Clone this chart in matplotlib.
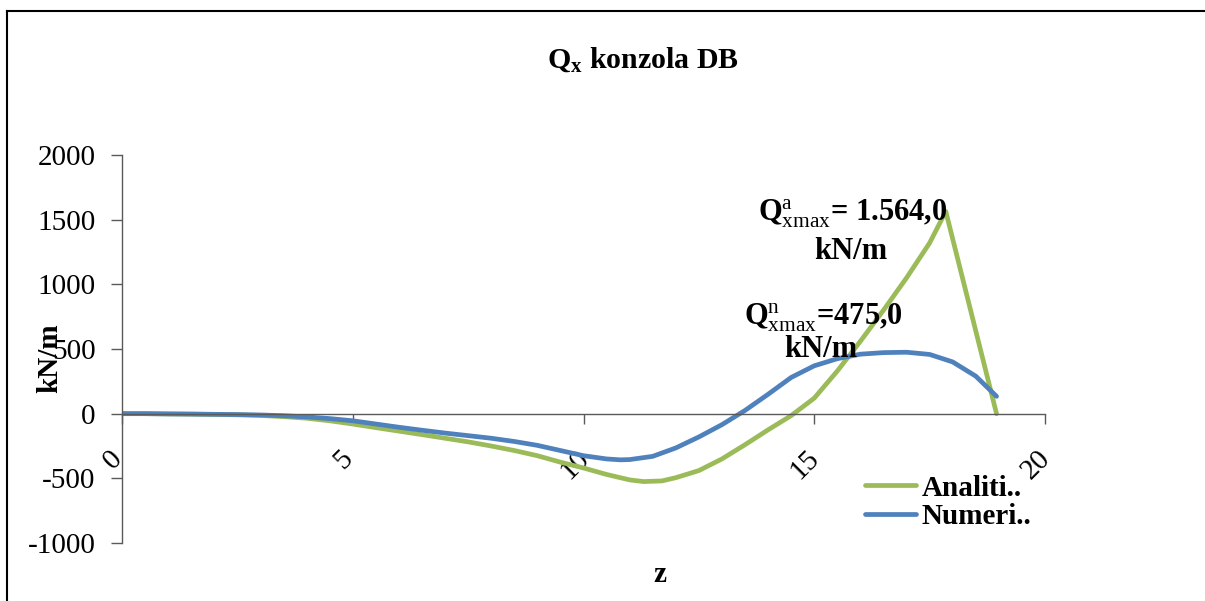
import matplotlib
matplotlib.use("Agg")
import matplotlib.pyplot as plt
from matplotlib.lines import Line2D
from matplotlib.transforms import ScaledTranslation

plt.rcParams["font.family"] = ["Liberation Serif", "DejaVu Serif"]
plt.rcParams["mathtext.fontset"] = "custom"
plt.rcParams["mathtext.rm"] = "Liberation Serif"
plt.rcParams["mathtext.bf"] = "Liberation Serif:bold"
plt.rcParams["mathtext.it"] = "Liberation Serif:italic"
plt.rcParams["axes.unicode_minus"] = False

# Shear force Qx along the cantilever DB
z_analytic = [0, 0.5, 1, 1.5, 2, 2.5, 3, 3.5, 4, 4.5, 5, 5.5, 6, 6.5, 7,
              7.5, 8, 8.5, 9, 9.5, 10, 10.5, 11, 11.3, 11.7, 12, 12.5, 13,
              13.5, 14, 14.5, 15, 15.5, 16, 16.5, 17, 17.5, 17.85, 18.95]
q_analytic = [0, 0, -2, -4, -6, -9, -14, -23, -35, -55, -80, -108, -135,
              -162, -190, -218, -250, -285, -325, -375, -420, -470, -512,
              -525, -520, -495, -440, -350, -240, -125, -15, 120, 330, 560,
              800, 1050, 1320, 1564, 0]

z_numeric = [0, 0.5, 1, 1.5, 2, 2.5, 3, 3.5, 4, 4.5, 5, 5.5, 6, 6.5, 7,
             7.5, 8, 8.5, 9, 9.5, 10, 10.5, 10.8, 11, 11.5, 12, 12.5, 13,
             13.5, 14, 14.5, 15, 15.5, 16, 16.5, 17, 17.5, 18, 18.5, 18.95]
q_numeric = [0, 0, -2, -3, -5, -7, -10, -16, -25, -38, -55, -80, -105,
             -128, -150, -170, -190, -215, -245, -285, -325, -350, -357,
             -355, -330, -265, -180, -85, 25, 150, 280, 370, 425, 460, 472,
             475, 458, 400, 290, 134]

series_labels = ["Analiti..", "Numeri.."]
x_ticks = [0, 5, 10, 15, 20]
y_ticks = [-1000, -500, 0, 500, 1000, 1500, 2000]

q_a_max = "1.564,0"
q_n_max = "475,0"

GREEN = "#9BBB59"
BLUE = "#4F81BD"
AXIS = "#5a5a5a"
FS = 21

W, H = 1205, 601
fig = plt.figure(figsize=(W / 100, H / 100), dpi=100)
ax = fig.add_axes([122 / W, 1 - 543 / H, 923 / W, (543 - 155) / H])

ax.plot(z_analytic, q_analytic, color=GREEN, lw=3.4, solid_capstyle="round",
        solid_joinstyle="round", label=series_labels[0])
ax.plot(z_numeric, q_numeric, color=BLUE, lw=3.4, solid_capstyle="round",
        solid_joinstyle="round", label=series_labels[1])

ax.set_xlim(0, 20)
ax.set_ylim(-1000, 2000)
ax.set_xticks(x_ticks)
ax.set_yticks(y_ticks)

ax.spines["top"].set_visible(False)
ax.spines["right"].set_visible(False)
ax.spines["bottom"].set_position(("data", 0))
for s in ("left", "bottom"):
    ax.spines[s].set_color(AXIS)
    ax.spines[s].set_linewidth(1.0)

ax.tick_params(axis="y", direction="out", length=8, width=1.0, color=AXIS,
               pad=11, labelsize=FS)
ax.tick_params(axis="x", direction="out", length=7, width=1.0, color=AXIS,
               pad=16, labelsize=FS)
shift = ScaledTranslation(-9 / 100, 0, fig.dpi_scale_trans)
for lab in ax.get_xticklabels():
    lab.set_rotation(45)
    lab.set_ha("center")
    lab.set_va("top")
    lab.set_transform(lab.get_transform() + shift)

# Value labels at the maxima
bold = dict(fontsize=22, fontweight="bold", ha="center", va="center")
ax.text(15.84, 1543, r"$\mathbf{Q}^{\mathrm{a}}_{\mathrm{xmax}}$" + "= " + q_a_max, **bold)
ax.text(15.80, 1256, "kN/m", **bold)
ax.text(15.21, 744, r"$\mathbf{Q}^{\mathrm{n}}_{\mathrm{xmax}}$" + "=" + q_n_max, **bold)
ax.text(15.15, 496, "kN/m", **bold)

# Title and axis labels
fig.text(643 / W, 1 - 60 / H, r"$\mathbf{Q}_{\mathbf{x}}$" + " konzola DB",
         fontsize=21.5, fontweight="bold", ha="center", va="center")
fig.text(50 / W, 1 - 358 / H, "kN/m", fontsize=FS, fontweight="bold",
         rotation=90, ha="center", va="center")
fig.text(660 / W, 1 - 575 / H, "z", fontsize=FS, fontweight="bold",
         ha="center", va="center")

leg = fig.legend(loc="upper left", bbox_to_anchor=(850 / W, 1 - 460 / H),
                 frameon=False, handlelength=1.75,
                 handletextpad=0.2, labelspacing=0.05, borderpad=0,
                 prop={"weight": "bold", "size": FS})

# Chart area frame
fx, fy = 7 / W, 1 - 11 / H
fig.add_artist(Line2D([fx, fx], [0, fy], transform=fig.transFigure,
                      color="black", lw=1.5))
fig.add_artist(Line2D([fx, 1], [fy, fy], transform=fig.transFigure,
                      color="black", lw=1.5))

fig.savefig("out.png", dpi=100)
